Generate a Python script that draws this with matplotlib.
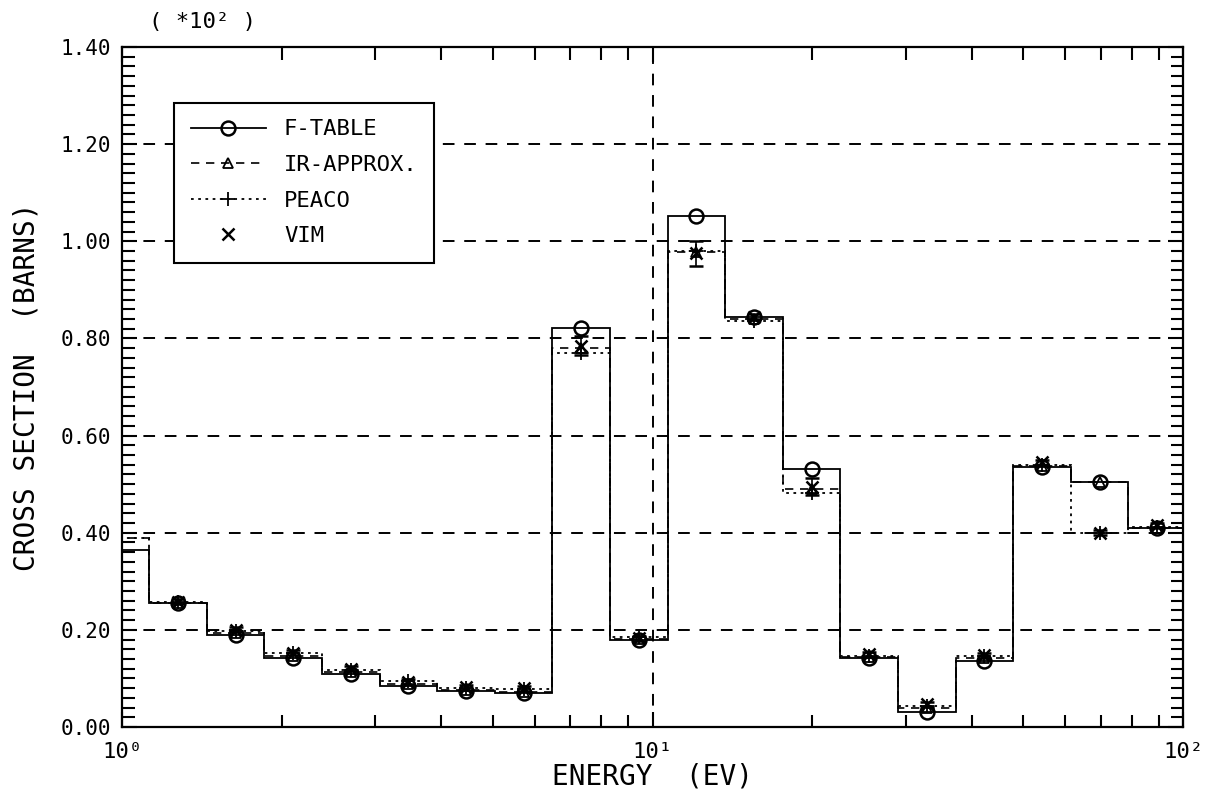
import numpy as np
import matplotlib
matplotlib.use("Agg")
import matplotlib.pyplot as plt
from matplotlib.ticker import FixedLocator, MultipleLocator, LogLocator, NullFormatter
from matplotlib.lines import Line2D

plt.rcParams["font.family"] = ["DejaVu Sans Mono", "DejaVu Sans"]

# group boundaries (eV), 0.25 lethargy steps
edges = [0.8764, 1.1254, 1.4450, 1.8554, 2.3824, 3.0590, 3.9279, 5.0435,
         6.4760, 8.3153, 10.677, 13.710, 17.603, 22.603, 29.023, 37.267,
         47.851, 61.442, 78.893, 101.30]

# group cross sections (x 10^2 barns)
ftable = [0.365, 0.255, 0.190, 0.143, 0.110, 0.085, 0.074, 0.071, 0.822,
          0.180, 1.052, 0.845, 0.532, 0.143, 0.032, 0.137, 0.535, 0.505, 0.410]
ir_approx = [0.390, 0.256, 0.193, 0.146, 0.113, 0.088, 0.076, 0.073, 0.780,
             0.182, 0.978, 0.840, 0.490, 0.145, 0.040, 0.142, 0.538, 0.505, 0.410]
peaco = [0.390, 0.258, 0.198, 0.152, 0.118, 0.094, 0.080, 0.078, 0.771,
         0.185, 0.980, 0.836, 0.482, 0.146, 0.044, 0.146, 0.540, 0.400, 0.412]
vim = [0.390, 0.258, 0.200, 0.153, 0.120, 0.093, 0.082, 0.080, 0.785,
       0.183, 0.975, 0.845, 0.495, 0.150, 0.047, 0.148, 0.545, 0.400, 0.415]
vim_err = [0.005, 0.005, 0.005, 0.005, 0.005, 0.005, 0.005, 0.005, 0.020,
           0.005, 0.025, 0.005, 0.018, 0.005, 0.005, 0.005, 0.005, 0.005, 0.005]

edges = np.array(edges)
centers = np.sqrt(edges[:-1] * edges[1:])
# only groups whose midpoint falls inside the plotted range get symbols
shown = centers >= 1.0

fig = plt.figure(figsize=(12.15, 7.92), dpi=100)
ax = fig.add_axes([0.1004, 0.082, 0.8733, 0.8587])
ax.set_xscale("log")
ax.set_xlim(1, 100)
ax.set_ylim(0, 1.4)

# dashed grid
for y in np.arange(0.2, 1.21, 0.2):
    ax.axhline(y, color="black", lw=1.4, ls=(0, (6, 5)), zorder=1)
ax.axvline(10, color="black", lw=1.4, ls=(0, (6, 5)), zorder=1)

ax.stairs(ftable, edges, color="black", lw=1.3, ls="-", zorder=3)
ax.stairs(ir_approx, edges, color="black", lw=1.2, ls=(0, (5, 4)), zorder=3)
ax.stairs(peaco, edges, color="black", lw=1.3, ls=(0, (1.5, 2.5)), zorder=3)

c = centers[shown]
ax.plot(c, np.array(ftable)[shown], ls="none", marker="o", ms=10, mfc="none",
        mec="black", mew=1.8, zorder=4)
ax.plot(c, np.array(ir_approx)[shown], ls="none", marker="^", ms=7, mfc="none",
        mec="black", mew=1.3, zorder=4)
ax.plot(c, np.array(peaco)[shown], ls="none", marker="+", ms=10, mec="black",
        mew=1.3, zorder=4)
ax.errorbar(c, np.array(vim)[shown], yerr=np.array(vim_err)[shown], ls="none",
            marker="x", ms=9, mec="black", mew=1.8, ecolor="black",
            elinewidth=1.2, capsize=5, capthick=1.2, zorder=5)

# axes and ticks
for s in ax.spines.values():
    s.set_linewidth(1.6)
ax.xaxis.set_major_locator(FixedLocator([1, 10, 100]))
ax.set_xticklabels(["10\u2070", "10\u00b9", "10\u00b2"])
ax.xaxis.set_minor_locator(LogLocator(base=10, subs=np.arange(2, 10)))
ax.xaxis.set_minor_formatter(NullFormatter())
ax.yaxis.set_major_locator(MultipleLocator(0.2))
ax.yaxis.set_minor_locator(MultipleLocator(0.02))
ax.yaxis.set_major_formatter(plt.FuncFormatter(lambda v, p: f"{v:.2f}"))
ax.tick_params(which="both", direction="in", top=True, right=True, width=1.5)
ax.tick_params(which="major", length=11, labelsize=15, pad=8)
ax.tick_params(axis="x", which="major", labelsize=16, pad=11)
ax.tick_params(which="minor", length=9)

ax.set_xlabel("ENERGY  (EV)", fontsize=20, labelpad=0)
ax.set_ylabel("CROSS SECTION  (BARNS)", fontsize=20, labelpad=14)
fig.text(0.123, 0.972, "( *10\u00b2 )", fontsize=16, ha="left", va="center")

handles = [
    Line2D([], [], color="black", lw=1.3, marker="o", ms=10, mfc="none", mew=1.8),
    Line2D([], [], color="black", lw=1.2, ls=(0, (5, 4)), marker="^", ms=7, mfc="none", mew=1.3),
    Line2D([], [], color="black", lw=1.3, ls=(0, (1.5, 2.5)), marker="+", ms=10, mew=1.3),
    Line2D([], [], color="black", ls="none", marker="x", ms=9, mew=1.8),
]
leg = ax.legend(handles, ["F-TABLE", "IR-APPROX.", "PEACO", "VIM"],
                loc="upper left", bbox_to_anchor=(0.049, 0.918), borderaxespad=0,
                fontsize=16, handlelength=3.4, handletextpad=0.8, labelspacing=0.7,
                borderpad=0.75, fancybox=False, framealpha=1, edgecolor="black")
leg.get_frame().set_linewidth(1.5)

fig.savefig("out.png", dpi=100)
